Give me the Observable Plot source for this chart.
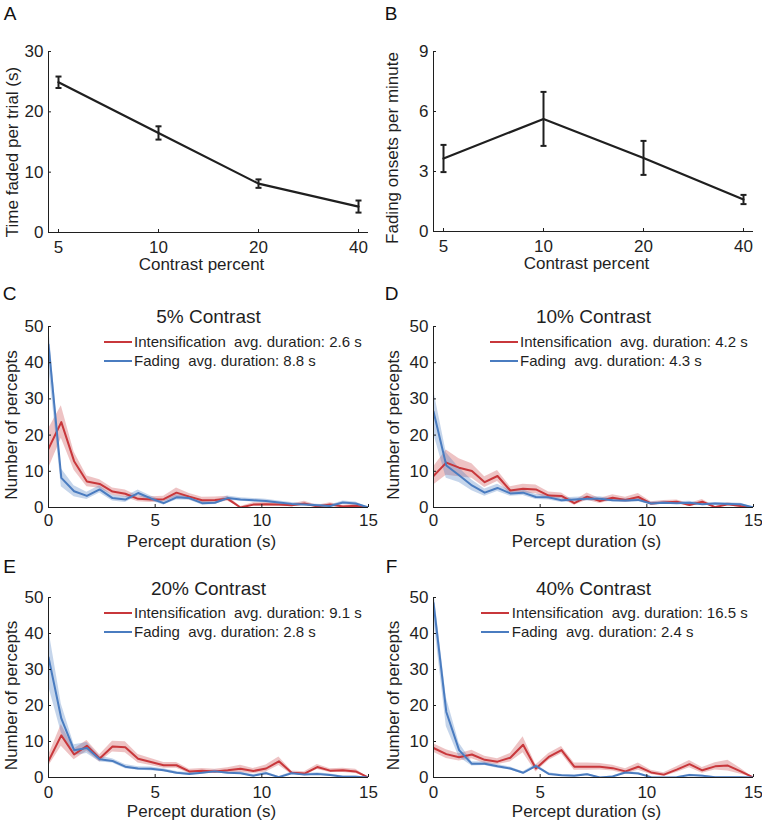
<!DOCTYPE html>
<html><head><meta charset="utf-8">
<script src="https://cdn.jsdelivr.net/npm/d3@7"></script>
<script src="https://cdn.jsdelivr.net/npm/@observablehq/plot@0.6"></script>
<style>
body{margin:0;background:#fff;}
#fig{position:relative;width:762px;height:823px;font-family:"Liberation Sans",Arial,Helvetica,sans-serif;color:#1f1f1f;overflow:hidden;background:#fff}
.panel{position:absolute;width:381px}
.panel svg{overflow:visible}
.legend{position:absolute;font-size:15px;line-height:19.3px;white-space:pre;color:#1f1f1f}
.legend .row{display:flex;align-items:center}
.legend .sw{width:28px;height:2px;margin-right:2.5px;flex:none}
</style></head><body><div id="fig"></div>
<script>
// ---------- data ----------
const contrast = [5, 10, 20, 40];
const timeFaded = [24.9, 16.5, 8.1, 4.3];
const timeFadedSem = [0.95, 1.1, 0.7, 1.0];
const fadingOnsets = [3.65, 5.63, 3.68, 1.6];
const fadingOnsetsSem = [0.68, 1.35, 0.85, 0.23];
const contrastTicks = [5, 10, 20, 40];
const timeTicks = [0, 10, 20, 30];
const onsetTicks = [0, 3, 6, 9];

const durations = [0,0.6,1.2,1.8,2.4,3,3.6,4.2,4.8,5.4,6,6.6,7.2,7.8,8.4,9,9.6,10.2,10.8,11.4,12,12.6,13.2,13.8,14.4,15];
const durationTicks = [0, 5, 10, 15];
const countTicks = [0, 10, 20, 30, 40, 50];

const intens5 = [16.2,23.6,12.8,7.2,6.5,4.4,3.8,2.4,2.2,2.3,4.1,3.0,2.0,2.1,2.4,0,0.8,0.9,0.8,0.6,1.1,0.3,0.8,0.3,0.5,0];
const intens5Err = [5.5,4.5,2.5,1.5,1.2,1.0,1.0,0.8,0.8,0.8,1.3,0.9,0.8,0.8,0.7,0.3,0.5,0.5,0.5,0.4,0.6,0.3,0.5,0.3,0.4,0];
const fading5 = [45,8.2,4.5,3.2,5.0,2.6,2.2,4.0,2.5,1.2,2.8,2.6,1.2,1.3,2.6,2.2,2.0,1.8,1.4,1.0,0.8,0.6,0.4,1.4,1.1,0];
const fading5Err = [5.5,2.5,1.5,1.0,1.0,0.8,0.8,0.8,0.7,0.5,0.7,0.6,0.5,0.5,0.6,0.5,0.5,0.5,0.4,0.4,0.3,0.3,0.3,0.4,0.4,0];

const intens10 = [8.7,12.4,11.0,10.1,7.0,8.7,4.7,5.2,5.0,3.3,3.2,1.2,3.0,1.8,2.7,2.1,2.9,1.1,1.4,1.6,0.7,1.6,0.1,0.9,0.4,0];
const intens10Err = [2.5,3.5,2.5,2.0,1.5,1.5,1.0,1.2,1.2,1.0,0.8,0.6,1.0,0.7,0.8,0.7,1.0,0.5,0.5,0.5,0.4,0.6,0.2,0.4,0.3,0];
const fading10 = [26.5,11.6,8.9,6.1,4.1,5.4,3.9,4.1,2.9,2.8,2.0,2.2,2.4,2.4,2.0,1.9,2.1,1.1,1.3,1.2,1.3,0.9,1.1,1.0,0.9,0];
const fading10Err = [6,3.5,2,1.5,1,1,0.8,0.8,0.7,0.7,0.6,0.6,0.6,0.6,0.5,0.5,0.5,0.4,0.4,0.4,0.4,0.3,0.3,0.3,0.3,0];

const intens20 = [4.6,11.7,6.4,8.8,5.3,8.6,8.4,5.2,4.3,3.4,3.4,1.7,1.9,1.7,2.0,2.4,1.8,2.5,4.5,1.3,1.1,2.9,1.9,2.0,1.7,0];
const intens20Err = [1.5,3,1.5,1.5,1,1.5,1.5,1.2,1,0.8,0.8,0.6,0.6,0.6,0.7,1.0,0.7,1.0,1.2,0.5,0.5,0.7,0.5,0.6,0.6,0];
const fading20 = [33.4,16.4,7.6,8.2,5.1,4.6,3.0,2.5,2.4,2.0,1.3,1.0,1.3,1.7,1.3,1.2,0.5,1.2,0.1,1.2,0.8,1.0,0.7,0.2,0.2,0];
const fading20Err = [8,4,1.5,1.5,0.8,0.6,0.6,0.5,0.5,0.4,0.4,0.3,0.3,0.4,0.3,0.3,0.3,0.3,0.2,0.3,0.3,0.3,0.3,0.2,0.2,0];

const intens40 = [8.2,6.5,5.6,6.4,4.9,4.4,5.5,9.1,2.5,5.7,7.6,3.0,3.0,3.0,2.6,1.7,3.0,1.4,0.8,2.2,3.7,2.0,3.1,3.3,1.7,0];
const intens40Err = [1.2,1.2,1,1.2,1,0.8,1.2,2.2,1,1,1,1,1,0.9,0.8,0.7,1,0.6,0.5,0.8,1,0.8,1,1.5,0.8,0];
const fading40 = [48.5,18.2,7.6,3.8,3.8,3.1,2.5,1.3,3.2,1.0,0.6,0.5,0.9,0,0.3,1.4,1.1,0.1,0,0.1,0.7,0.5,0.1,0.1,0.1,0];
const fading40Err = [4,4,2,0.6,0.5,0.5,0.4,0.3,0.5,0.3,0.2,0.2,0.2,0.1,0.1,0.3,0.3,0.1,0.1,0.1,0.2,0.2,0.1,0.1,0.1,0];

const panelLetters = ["A", "B", "C", "D", "E", "F"];
const histTitles = ["5% Contrast", "10% Contrast", "20% Contrast", "40% Contrast"];
const intensAvg = ["2.6", "4.2", "9.1", "16.5"];
const fadingAvg = ["8.8", "4.3", "2.8", "2.4"];
const seriesNames = ["Intensification", "Fading"];

// ---------- style ----------
const FONT = '"Liberation Sans", Arial, Helvetica, sans-serif';
const INK = "#1f1f1f";
const RED = "#c8373b";
const BLUE = "#4a7cc0";
const fig = document.getElementById("fig");

const capSymbol = {draw(ctx) { ctx.moveTo(-3, 0); ctx.lineTo(3, 0); }};
const TXT = {textAnchor: "middle", lineAnchor: "middle", fill: INK};

function frameMarks(o) {
  return [
    Plot.ruleY([0], {stroke: INK, strokeWidth: 1}),
    Plot.frame({anchor: "left", stroke: INK, strokeWidth: 1}),
    Plot.tickX(o.xt, {x: d => d, insetTop: o.innerH - 3, stroke: INK}),
    Plot.tickY(o.yt, {y: d => d, insetRight: o.innerW - 3, stroke: INK}),
    Plot.axisX(o.xt, {tickSize: 0, tickPadding: o.xPad, fontSize: 17, label: null, tickFormat: d => `${d}`, fill: INK}),
    Plot.axisY(o.yt, {tickSize: 0, tickPadding: o.yPad, fontSize: 17, label: null, tickFormat: d => `${d}`, fill: INK}),
    Plot.text([o.xLabel], {...TXT, frameAnchor: "bottom", dx: -7, dy: o.xLabelDy, fontSize: 17}),
    Plot.text([o.yLabel], {...TXT, frameAnchor: "left", rotate: -90, dx: o.yLabelDx, dy: o.yLabelDy, fontSize: 17}),
    Plot.text([o.letter], {...TXT, frameAnchor: "top-left", dx: o.letterDx, dy: o.letterDy, fontSize: 19, fill: "#111"})
  ];
}

function mount(L, svg) {
  const div = document.createElement("div");
  div.className = "panel";
  div.style.left = L.left + "px";
  div.style.top = L.top + "px";
  div.style.height = L.height + "px";
  div.appendChild(svg);
  fig.appendChild(div);
  return div;
}

function linePanel(L, o) {
  const rows = contrast.map((c, i) => ({c, v: o.values[i], lo: o.values[i] - o.err[i], hi: o.values[i] + o.err[i]}));
  const innerW = 381 - L.ml - L.mr, innerH = L.height - L.mt - L.mb;
  const svg = Plot.plot({
    width: 381, height: L.height,
    marginTop: L.mt, marginBottom: L.mb, marginLeft: L.ml, marginRight: L.mr,
    style: {fontFamily: FONT, fontSize: "17px", overflow: "visible", background: "transparent", color: INK},
    x: {type: "point", domain: contrastTicks, padding: 0.1},
    y: {domain: [0, o.yMax]},
    marks: [
      ...frameMarks({xt: contrastTicks, yt: o.yt, innerW, innerH, xPad: 8, yPad: 5,
        xLabel: "Contrast percent", xLabelDy: 32, yLabel: o.yLabel, yLabelDx: o.yLabelDx, yLabelDy: o.yLabelDy,
        letter: o.letter, letterDx: o.letterDx, letterDy: -37.5}),
      Plot.line(rows, {x: "c", y: "v", stroke: INK, strokeWidth: 2.2}),
      Plot.ruleX(rows, {x: "c", y1: "lo", y2: "hi", stroke: INK, strokeWidth: 2}),
      Plot.dot(rows, {x: "c", y: "lo", symbol: capSymbol, stroke: INK, strokeWidth: 2, fill: "none"}),
      Plot.dot(rows, {x: "c", y: "hi", symbol: capSymbol, stroke: INK, strokeWidth: 2, fill: "none"})
    ]
  });
  mount(L, svg);
}

function histPanel(L, o) {
  const rows = durations.map((d, i) => ({
    d,
    int: o.int[i], intLo: Math.max(0, o.int[i] - o.intErr[i]), intHi: o.int[i] + o.intErr[i],
    fad: o.fad[i], fadLo: Math.max(0, o.fad[i] - o.fadErr[i]), fadHi: o.fad[i] + o.fadErr[i]
  }));
  const innerW = 381 - L.ml - L.mr, innerH = L.height - L.mt - L.mb;
  const svg = Plot.plot({
    width: 381, height: L.height,
    marginTop: L.mt, marginBottom: L.mb, marginLeft: L.ml, marginRight: L.mr,
    style: {fontFamily: FONT, fontSize: "17px", overflow: "visible", background: "transparent", color: INK},
    x: {domain: [0, 15]},
    y: {domain: [0, 50]},
    marks: [
      Plot.areaY(rows, {x: "d", y1: "intLo", y2: "intHi", fill: RED, fillOpacity: 0.3, clip: true}),
      Plot.areaY(rows, {x: "d", y1: "fadLo", y2: "fadHi", fill: BLUE, fillOpacity: 0.32, clip: true}),
      Plot.lineY(rows, {x: "d", y: "int", stroke: RED, strokeWidth: 2, clip: true}),
      Plot.lineY(rows, {x: "d", y: "fad", stroke: BLUE, strokeWidth: 2, clip: true}),
      ...frameMarks({xt: durationTicks, yt: countTicks, innerW, innerH, xPad: o.xPad, yPad: 5,
        xLabel: "Percept duration (s)", xLabelDy: 34, yLabel: "Number of percepts", yLabelDx: o.yLabelDx, yLabelDy: 8,
        letter: o.letter, letterDx: o.letterDx, letterDy: o.letterDy}),
      Plot.text([o.title], {...TXT, frameAnchor: "top", dy: o.titleDy, fontSize: 19})
    ]
  });
  const div = mount(L, svg);
  const lg = document.createElement("div");
  lg.className = "legend";
  lg.style.top = (L.mt + 6.2) + "px";
  lg.style.right = o.legendRight + "px";
  [[RED, `${seriesNames[0]}  avg. duration: ${o.intAvg} s`], [BLUE, `${seriesNames[1]}  avg. duration: ${o.fadAvg} s`]].forEach(([c, t]) => {
    const row = document.createElement("div");
    row.className = "row";
    const sw = document.createElement("span");
    sw.className = "sw";
    sw.style.background = c;
    const tx = document.createElement("span");
    tx.textContent = t;
    row.appendChild(sw); row.appendChild(tx);
    lg.appendChild(row);
  });
  div.appendChild(lg);
}

linePanel({left: 0, top: 0, height: 280, mt: 51, mb: 48, ml: 48, mr: 13},
  {values: timeFaded, err: timeFadedSem, yMax: 30, yt: timeTicks, yLabel: "Time faded per trial (s)",
   yLabelDx: -36, yLabelDy: 10, letter: panelLetters[0], letterDx: -38.5});
linePanel({left: 381, top: 0, height: 280, mt: 51, mb: 49, ml: 52, mr: 9},
  {values: fadingOnsets, err: fadingOnsetsSem, yMax: 9, yt: onsetTicks, yLabel: "Fading onsets per minute",
   yLabelDx: -41, yLabelDy: 6.5, letter: panelLetters[1], letterDx: -42.5});

const histLayouts = [
  {left: 0, top: 280, height: 260, mt: 46, mb: 33, ml: 48, mr: 13},
  {left: 381, top: 280, height: 260, mt: 46, mb: 33, ml: 52, mr: 9},
  {left: 0, top: 540, height: 283, mt: 57, mb: 46, ml: 48, mr: 13},
  {left: 381, top: 540, height: 283, mt: 57, mb: 46, ml: 52, mr: 9}
];
const histData = [
  [intens5, intens5Err, fading5, fading5Err],
  [intens10, intens10Err, fading10, fading10Err],
  [intens20, intens20Err, fading20, fading20Err],
  [intens40, intens40Err, fading40, fading40Err]
];
histData.forEach(([int, intErr, fad, fadErr], k) => {
  const right = k % 2 === 1;
  const bottom = k >= 2;
  histPanel(histLayouts[k], {
    int, intErr, fad, fadErr,
    title: histTitles[k], intAvg: intensAvg[k], fadAvg: fadingAvg[k],
    letter: panelLetters[k + 2],
    letterDx: right ? -42 : -39, letterDy: bottom ? -30.5 : -32.5,
    yLabelDx: right ? -40 : -37,
    xPad: bottom ? 8 : 6,
    titleDy: bottom ? -9 : -10,
    legendRight: right ? 14.3 : 19.3
  });
});
</script></body></html>
